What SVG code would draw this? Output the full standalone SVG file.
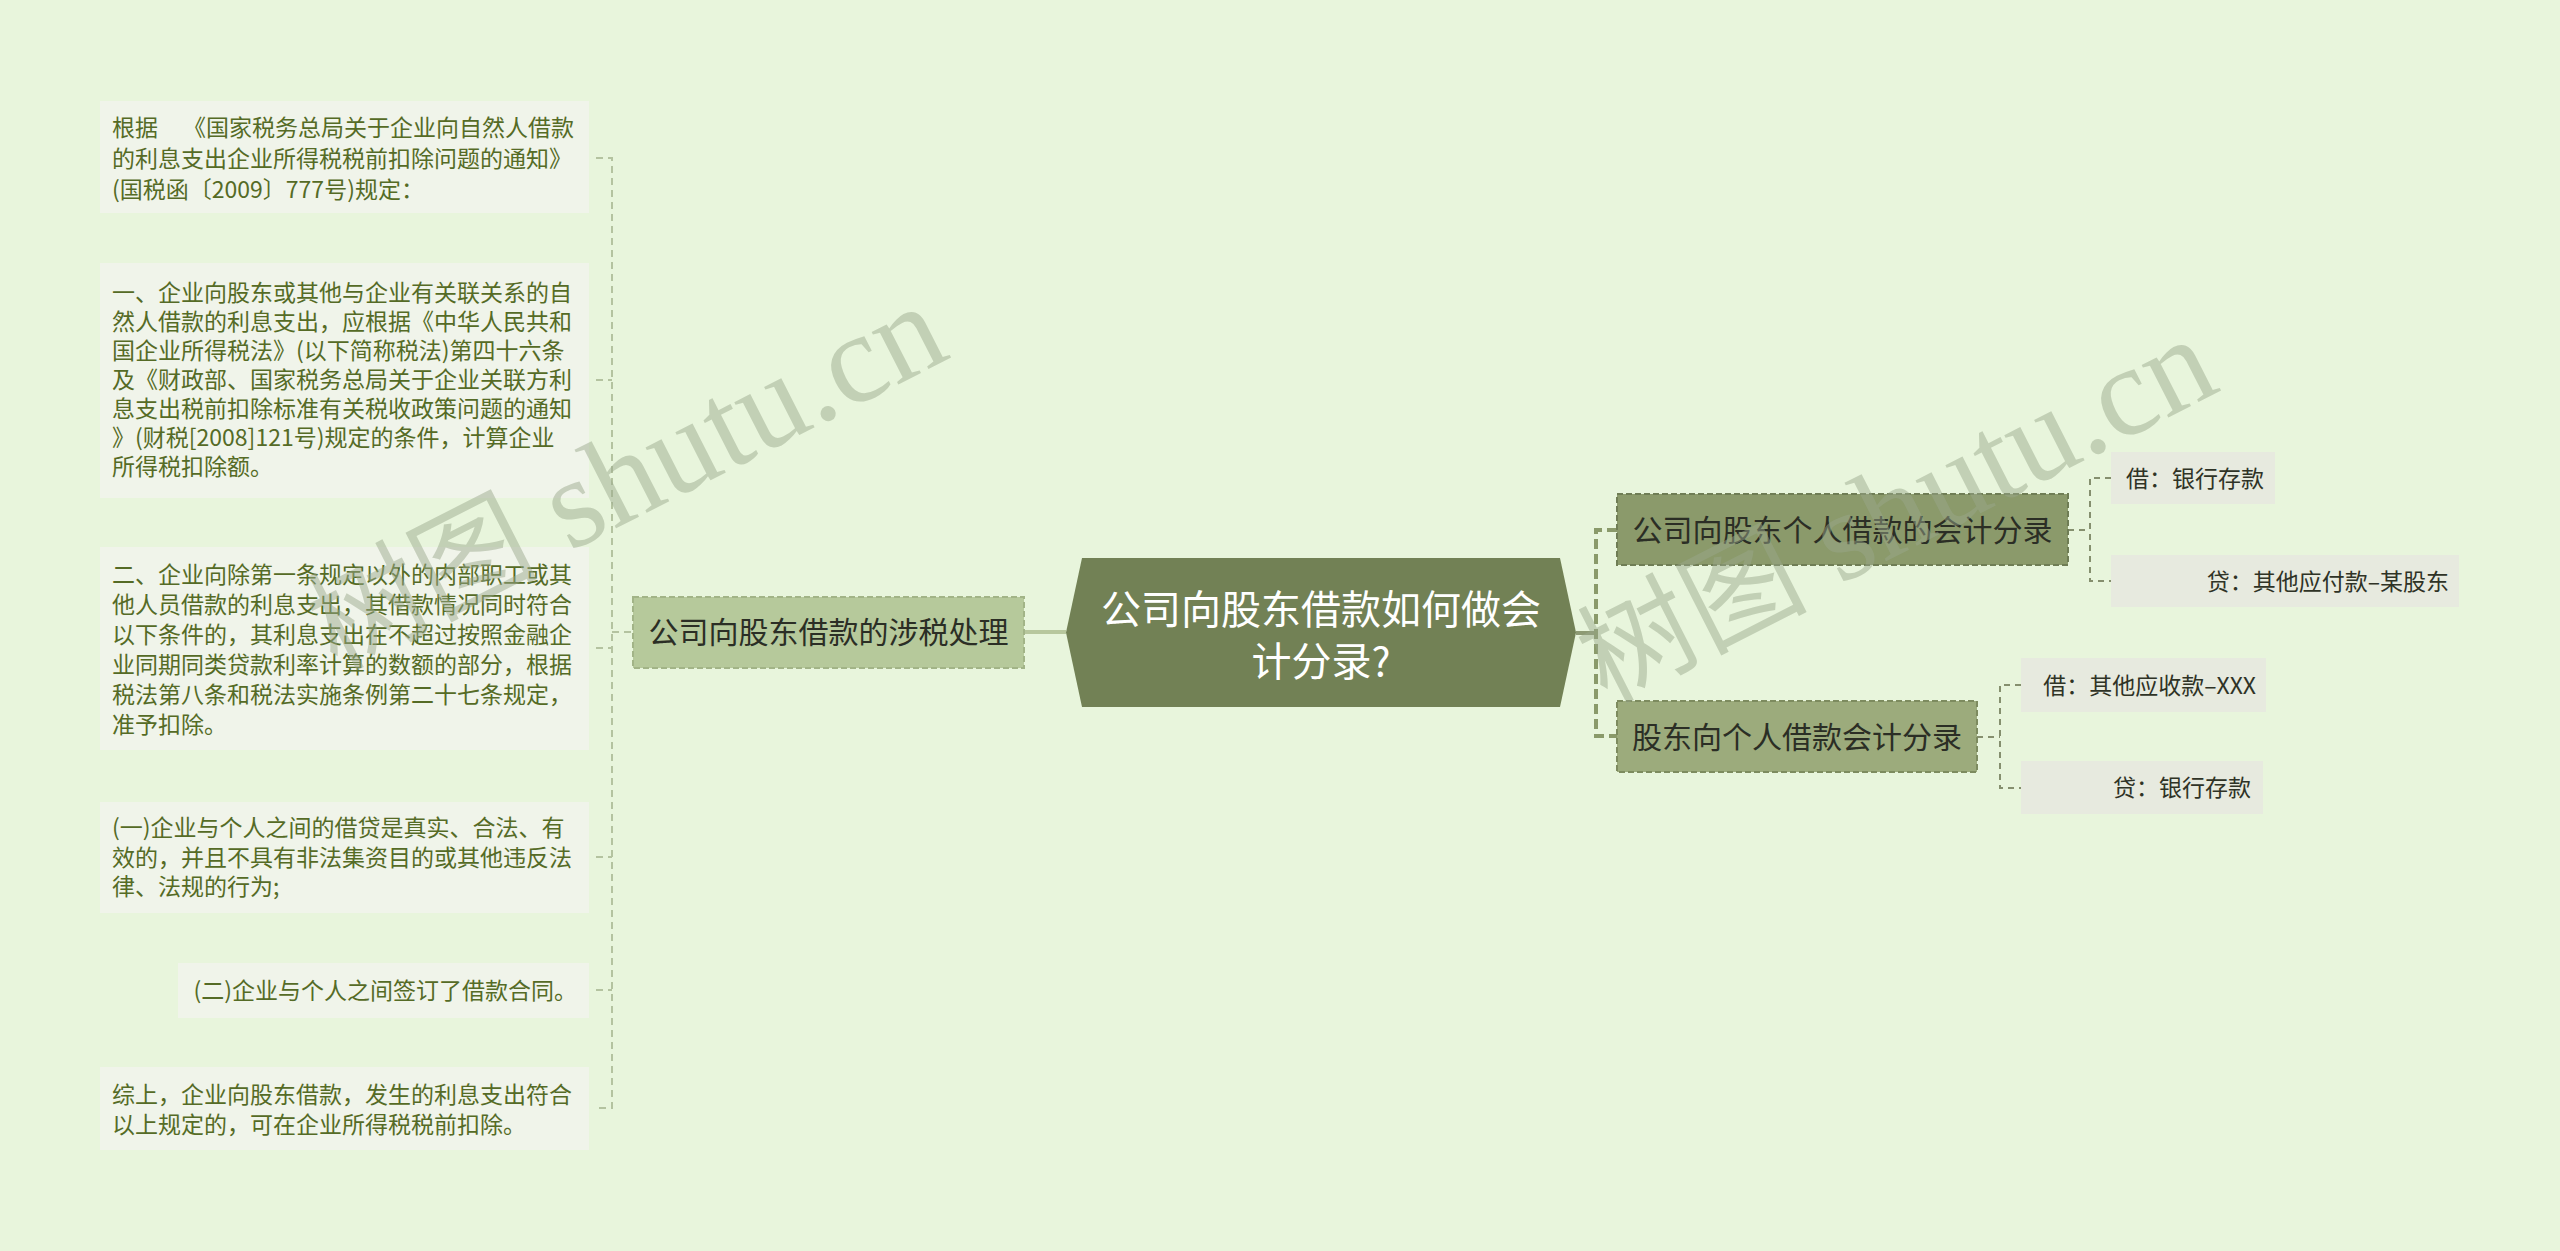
<svg xmlns="http://www.w3.org/2000/svg" width="2560" height="1251" viewBox="0 0 2560 1251">
<style>
.bg{fill:#e8f5dc}
.leaf{fill:#f0f4ea}
.rleaf{fill:#e7eadf}
.lt{font-family:"Noto Sans CJK SC","Noto Sans",sans-serif;font-size:23px;fill:#556b26}
.rt{font-family:"Noto Sans CJK SC","Noto Sans",sans-serif;font-size:23px;fill:#2f3326;text-anchor:end}
.nt{font-family:"Noto Sans CJK SC","Noto Sans",sans-serif;font-size:30px;fill:#2b2e25;text-anchor:middle}
.root-t{font-family:"Noto Sans CJK SC","Noto Sans",sans-serif;font-size:40px;fill:#ffffff;text-anchor:middle}
.cl{fill:none;stroke:#b4c3a0;stroke-width:2;stroke-dasharray:7 5}
.cr{fill:none;stroke:#8a9a6a;stroke-width:4;stroke-dasharray:10 5}
.cr2{fill:none;stroke:#858f6e;stroke-width:2;stroke-dasharray:6 5}
.wm{font-family:"Liberation Serif","Noto Sans CJK SC",serif;font-size:128px;fill:#9aa88c;opacity:0.48}
.wmc{font-family:"Noto Sans CJK SC",serif;font-size:115px;font-weight:400}
</style>
<rect class="bg" x="0" y="0" width="2560" height="1251"/>

<g id="connectors">
  <line x1="1024" y1="632" x2="1066" y2="632" stroke="#b7c79d" stroke-width="4"/>
  <path class="cl" d="M596 158 H612 V1108 H596 M596 380 H612 M596 648 H612 M596 857 H612 M596 990 H612 M612 632 H633"/>
  <line x1="1576" y1="633" x2="1596" y2="633" stroke="#8d9a74" stroke-width="4"/>
  <path class="cr" d="M1617 530 H1596 V736 H1617"/>
  <path class="cr2" d="M2068 530 H2090 M2111 478 H2090 V581 H2111"/>
  <path class="cr2" d="M1977 737 H2000 M2021 685 H2000 V788 H2021"/>
</g>

<g id="root">
  <polygon points="1066,632.5 1082,558 1560,558 1576,632.5 1560,707 1082,707" fill="#728155"/>
  <text class="root-t" x="1321" y="624">公司向股东借款如何做会</text>
  <text class="root-t" x="1321" y="676">计分录?</text>
</g>

<g id="node-left">
  <rect x="633" y="597" width="391" height="71" fill="#b6c99b" stroke="#a2b487" stroke-width="2" stroke-dasharray="6 3"/>
  <text class="nt" x="828.5" y="643">公司向股东借款的涉税处理</text>
</g>

<g id="leaf-1">
  <rect class="leaf" x="100" y="101" width="489" height="112"/>
  <text class="lt" x="112" y="136">根据</text>
  <text class="lt" x="183" y="136">《国家税务总局关于企业向自然人借款</text>
  <text class="lt" x="112" y="167">的利息支出企业所得税税前扣除问题的通知》</text>
  <text class="lt" x="112" y="198">(国税函〔2009〕777号)规定：</text>
</g>

<g id="leaf-2">
  <rect class="leaf" x="100" y="263" width="489" height="235"/>
  <text class="lt" x="112" y="301">一、企业向股东或其他与企业有关联关系的自</text>
  <text class="lt" x="112" y="330">然人借款的利息支出，应根据《中华人民共和</text>
  <text class="lt" x="112" y="359">国企业所得税法》(以下简称税法)第四十六条</text>
  <text class="lt" x="112" y="388">及《财政部、国家税务总局关于企业关联方利</text>
  <text class="lt" x="112" y="417">息支出税前扣除标准有关税收政策问题的通知</text>
  <text class="lt" x="112" y="446">》(财税[2008]121号)规定的条件，计算企业</text>
  <text class="lt" x="112" y="475">所得税扣除额。</text>
</g>

<g id="leaf-3">
  <rect class="leaf" x="100" y="547" width="489" height="203"/>
  <text class="lt" x="112" y="583">二、企业向除第一条规定以外的内部职工或其</text>
  <text class="lt" x="112" y="613">他人员借款的利息支出，其借款情况同时符合</text>
  <text class="lt" x="112" y="643">以下条件的，其利息支出在不超过按照金融企</text>
  <text class="lt" x="112" y="673">业同期同类贷款利率计算的数额的部分，根据</text>
  <text class="lt" x="112" y="703">税法第八条和税法实施条例第二十七条规定，</text>
  <text class="lt" x="112" y="733">准予扣除。</text>
</g>

<g id="leaf-4">
  <rect class="leaf" x="100" y="802" width="489" height="111"/>
  <text class="lt" x="112" y="836">(一)企业与个人之间的借贷是真实、合法、有</text>
  <text class="lt" x="112" y="866">效的，并且不具有非法集资目的或其他违反法</text>
  <text class="lt" x="112" y="895">律、法规的行为;</text>
</g>

<g id="leaf-5">
  <rect class="leaf" x="178" y="963" width="411" height="55"/>
  <text class="lt" x="577" y="999" text-anchor="end">(二)企业与个人之间签订了借款合同。</text>
</g>

<g id="leaf-6">
  <rect class="leaf" x="100" y="1067" width="489" height="83"/>
  <text class="lt" x="112" y="1103">综上，企业向股东借款，发生的利息支出符合</text>
  <text class="lt" x="112" y="1133">以上规定的，可在企业所得税税前扣除。</text>
</g>

<g id="node-r1">
  <rect x="1617" y="494" width="451" height="71" fill="#8b9a6b" stroke="#6f7d55" stroke-width="2" stroke-dasharray="6 3"/>
  <text class="nt" x="1842.5" y="541">公司向股东个人借款的会计分录</text>
</g>

<g id="node-r2">
  <rect x="1617" y="701" width="360" height="71" fill="#9cab7c" stroke="#7d8b5f" stroke-width="2" stroke-dasharray="6 3"/>
  <text class="nt" x="1797" y="748">股东向个人借款会计分录</text>
</g>

<g id="leaf-r1a">
  <rect class="rleaf" x="2111" y="452" width="164" height="52"/>
  <text class="rt" x="2264" y="486.5">借：银行存款</text>
</g>
<g id="leaf-r1b">
  <rect class="rleaf" x="2111" y="555" width="348" height="52"/>
  <text class="rt" x="2449" y="589.5">贷：其他应付款–某股东</text>
</g>
<g id="leaf-r2a">
  <rect class="rleaf" x="2021" y="658" width="245" height="54"/>
  <text class="rt" x="2256" y="693.5">借：其他应收款–XXX</text>
</g>
<g id="leaf-r2b">
  <rect class="rleaf" x="2021" y="761" width="242" height="53"/>
  <text class="rt" x="2251" y="796">贷：银行存款</text>
</g>

<g id="watermarks">
  <text class="wm" transform="translate(336,671) rotate(-27)"><tspan class="wmc">树图</tspan> shutu.cn</text>
  <text class="wm" transform="translate(1606,704) rotate(-27)"><tspan class="wmc">树图</tspan> shutu.cn</text>
</g>
</svg>
